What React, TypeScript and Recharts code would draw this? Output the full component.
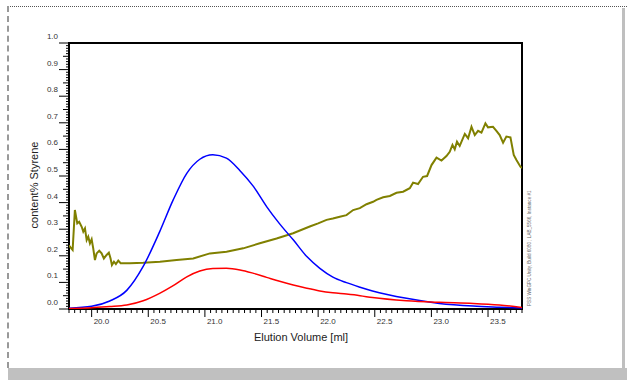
import { Line, LineChart, ReferenceArea, XAxis, YAxis } from 'recharts';

// elution volume grid shared by the two detector traces
const volumes = [
  19.8, 20.0, 20.16, 20.31, 20.455, 20.6, 20.72, 20.84, 20.955, 21.07, 21.19, 21.31, 21.43, 21.545,
  21.66, 21.78, 21.9, 22.015, 22.13, 22.25, 22.37, 22.48, 22.78, 23.07, 23.37, 23.6, 23.8
];
const blueValues = [
  0.003, 0.01, 0.03, 0.07, 0.16, 0.29, 0.41, 0.51, 0.563, 0.58, 0.567, 0.52, 0.46, 0.385, 0.32, 0.26,
  0.197, 0.153, 0.12, 0.099, 0.082, 0.068, 0.04, 0.021, 0.011, 0.007, 0.004
];
const redValues = [
  0.002, 0.005, 0.009, 0.015, 0.031, 0.059, 0.088, 0.121, 0.143, 0.152, 0.153, 0.147, 0.134, 0.119,
  0.104, 0.09, 0.078, 0.068, 0.061, 0.056, 0.05, 0.043, 0.031, 0.025, 0.021, 0.015, 0.006
];

// styrene content trace (noisy)
const styreneVolumes = [
  19.8, 19.808, 19.832, 19.852, 19.873, 19.89, 19.912, 19.926, 19.941, 19.956, 19.97, 19.985, 20.0,
  20.014, 20.029, 20.044, 20.067, 20.088, 20.108, 20.132, 20.152, 20.167, 20.179, 20.197, 20.214,
  20.235, 20.256, 20.338, 20.455, 20.603, 20.75, 20.897, 21.044, 21.191, 21.338, 21.485, 21.633,
  21.779, 21.926, 22.0, 22.074, 22.13, 22.191, 22.25, 22.309, 22.368, 22.427, 22.485, 22.515, 22.574,
  22.633, 22.692, 22.75, 22.809, 22.838, 22.882, 22.926, 22.962, 23.001, 23.045, 23.089, 23.133,
  23.162, 23.186, 23.206, 23.226, 23.25, 23.295, 23.324, 23.354, 23.383, 23.412, 23.442, 23.477,
  23.5, 23.544, 23.574, 23.603, 23.633, 23.662, 23.698, 23.727, 23.751, 23.786, 23.8
];
const styreneValues = [
  0.24, 0.234, 0.222, 0.372, 0.322, 0.328, 0.309, 0.291, 0.303, 0.259, 0.272, 0.247, 0.262, 0.228,
  0.184, 0.209, 0.219, 0.209, 0.19, 0.203, 0.212, 0.19, 0.165, 0.178, 0.169, 0.182, 0.172, 0.172,
  0.174, 0.178, 0.184, 0.19, 0.209, 0.215, 0.228, 0.247, 0.265, 0.285, 0.31, 0.322, 0.335, 0.34,
  0.347, 0.353, 0.372, 0.379, 0.394, 0.403, 0.41, 0.42, 0.425, 0.437, 0.441, 0.454, 0.475, 0.47,
  0.497, 0.5, 0.541, 0.569, 0.558, 0.575, 0.591, 0.617, 0.6, 0.629, 0.613, 0.658, 0.642, 0.685,
  0.654, 0.67, 0.663, 0.698, 0.683, 0.685, 0.67, 0.654, 0.625, 0.648, 0.645, 0.579, 0.56, 0.535, 0.53
];

const xTicks = Array.from({ length: 81 }, (_, i) => +(19.8 + i * 0.05).toFixed(2));
const yTicks = Array.from({ length: 101 }, (_, i) => +(i * 0.01).toFixed(2));

const blueData = volumes.map((x, i) => ({ x, y: blueValues[i] }));
const redData = volumes.map((x, i) => ({ x, y: redValues[i] }));
const styreneData = styreneVolumes.map((x, i) => ({ x, y: styreneValues[i] }));

const FONT = '"Liberation Sans", Arial, sans-serif';

function XTick(props: any) {
  const { x, y, payload } = props;
  const v = Math.round(payload.value * 100);
  const major = v % 50 === 0;
  return (
    <g>
      <line x1={x} x2={x} y1={y} y2={y + (major ? 8 : 4)} stroke="#000" />
      {major && (
        <text x={x + 2} y={y + 15} fontSize={8} fill="#333" fontFamily={FONT}>
          {(v / 100).toFixed(1)}
        </text>
      )}
    </g>
  );
}

function YTick(props: any) {
  const { x, y, payload } = props;
  const v = Math.round(payload.value * 100);
  const len = v % 10 === 0 ? 10 : v % 5 === 0 ? 6 : 3;
  return (
    <g>
      <line x1={x - len} x2={x} y1={y} y2={y} stroke="#000" />
      {v % 10 === 0 && (
        <text x={x - 11} y={y - 4} textAnchor="end" fontSize={8} fill="#333" fontFamily={FONT}>
          {(v / 100).toFixed(1)}
        </text>
      )}
    </g>
  );
}

export default function App() {
  return (
    <div style={{ position: 'absolute', left: 0, top: 0, width: 627, height: 380, background: '#fff' }}>
      <div style={{ position: 'absolute', left: 8, top: 6, width: 619, borderTop: '1px dotted #555' }} />
      <div style={{ position: 'absolute', left: 7, top: 6, height: 362, borderLeft: '2px dashed #999' }} />
      <div style={{ position: 'absolute', left: 622, top: 8, width: 3, height: 360, background: '#bfbfbf' }} />
      <div style={{ position: 'absolute', left: 8, top: 368, width: 619, height: 12, background: '#c0c0c0' }} />
      <div style={{ position: 'absolute', left: 0, top: 0 }}>
        <LineChart width={627} height={380} margin={{ top: 43, right: 105, bottom: 41, left: 0 }}>
          <XAxis
            type="number"
            dataKey="x"
            domain={[19.8, 23.8]}
            ticks={xTicks}
            interval={0}
            allowDataOverflow
            height={30}
            tickSize={0}
            tickMargin={0}
            axisLine={false}
            tickLine={false}
            tick={<XTick />}
          />
          <YAxis
            type="number"
            dataKey="y"
            domain={[0, 1]}
            ticks={yTicks}
            interval={0}
            allowDataOverflow
            width={69}
            tickSize={0}
            tickMargin={0}
            axisLine={false}
            tickLine={false}
            tick={<YTick />}
          />
          <Line data={styreneData} dataKey="y" type="linear" stroke="#808000" strokeWidth={2} dot={false} isAnimationActive={false} />
          <Line data={blueData} dataKey="y" type="monotone" stroke="#0000ff" strokeWidth={1.5} dot={false} isAnimationActive={false} />
          <Line data={redData} dataKey="y" type="monotone" stroke="#ff0000" strokeWidth={1.5} dot={false} isAnimationActive={false} />
          <ReferenceArea x1={19.8} x2={23.8} y1={0} y2={1} fill="none" stroke="#000" strokeWidth={2} ifOverflow="visible" />
        </LineChart>
      </div>
      <svg width={627} height={380} style={{ position: 'absolute', left: 0, top: 0, pointerEvents: 'none' }}>
        <text x={35} y={185} transform="rotate(-90 35 185)" textAnchor="middle" dominantBaseline="middle" fontSize={11} fill="#222" fontFamily={FONT}>
          content% Styrene
        </text>
        <text x={301} y={338} textAnchor="middle" dominantBaseline="middle" fontSize={11} fill="#222" fontFamily={FONT}>
          Elution Volume [ml]
        </text>
        <text x={531} y={306} transform="rotate(-90 531 306)" fontSize={4.6} fill="#666" fontFamily={FONT}>
          PSS WinGPC Unity, Build 6080 ; LAB_5566, Instance #1
        </text>
      </svg>
    </div>
  );
}
